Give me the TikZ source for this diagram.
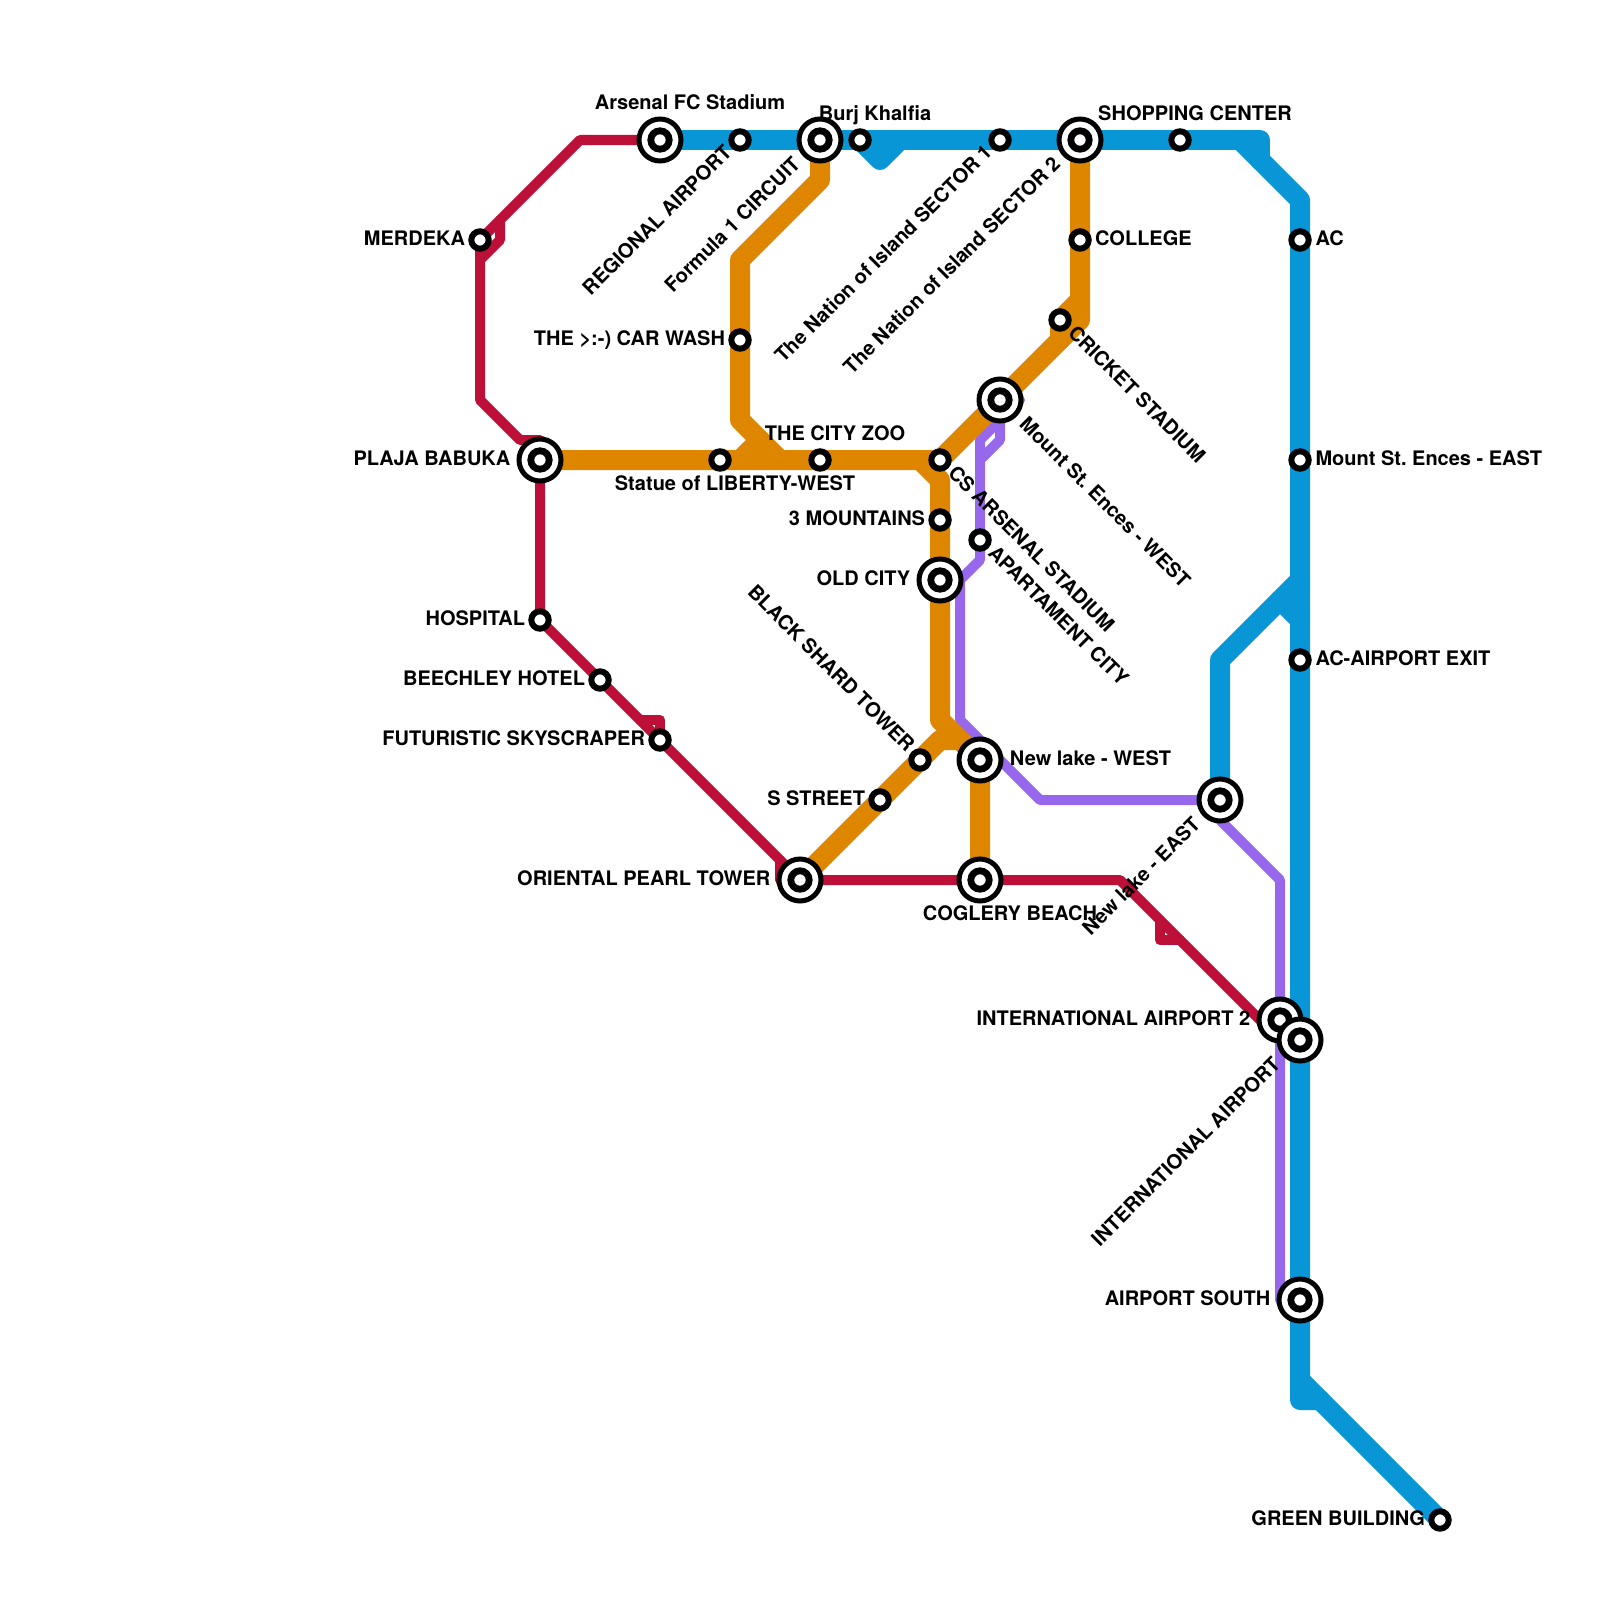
\documentclass[tikz,border=0pt]{standalone}
\usepackage{fontspec}
\setmainfont{TeX Gyre Heros}
\usepackage{xcolor}
\definecolor{MetroBlue}{HTML}{0896D7}
\definecolor{MetroOrange}{HTML}{DF8600}
\definecolor{MetroRed}{HTML}{BD1038}
\definecolor{MetroPurple}{HTML}{9768EC}
\usepackage{tikz}
\usetikzlibrary{positioning}
\pgfdeclarelayer{lines}
\pgfdeclarelayer{labels}
\pgfsetlayers{lines,labels,main}
\tikzset{
  mstop/.style={circle,draw=black,fill=white,line width=3pt,inner sep=0pt,outer sep=0pt,minimum size=8.7pt},
  mhub/.style={circle,draw=black,fill=white,line width=2.5pt,inner sep=0pt,outer sep=0pt,minimum size=21pt},
  mcore/.style={circle,draw=black,fill=white,line width=3.4pt,inner sep=0pt,outer sep=0pt,minimum size=9.2pt},
  mlabel/.style={font=\fontsize{10pt}{12pt}\selectfont\bfseries\frenchspacing,inner sep=0pt,outer sep=0pt,text height=7.2pt,text depth=0pt},
  mside/.style={mlabel,yshift=0.8pt},
  mup/.style={mlabel,rotate=45,anchor=base east},
  mdown/.style={mlabel,rotate=-45,anchor=base west},
  mback/.style={mlabel,rotate=-45,anchor=base east},
  mflat/.style={mlabel,anchor=base},
  wideline/.style={line width=10pt,line join=round,line cap=round},
  thinline/.style={line width=5pt,line join=round,line cap=round},
  bluetrack/.style={wideline,draw=MetroBlue},
  orangetrack/.style={wideline,draw=MetroOrange},
  redtrack/.style={thinline,draw=MetroRed},
  purpletrack/.style={thinline,draw=MetroPurple}
}
\begin{document}
\begin{tikzpicture}[x=0.5pt,y=-0.5pt]
  \useasboundingbox (0,0) rectangle (1600,1600);
  % stations
  \node[mhub] (arsenal) at (660,140) {};
  \node[mstop] (regional) at (740,140) {};
  \node[mhub] (formula) at (820,140) {};
  \node[mstop] (burj) at (860,140) {};
  \node[mstop] (sectorone) at (1000,140) {};
  \node[mhub] (sectortwo) at (1080,140) {};
  \node[mstop] (shopping) at (1180,140) {};
  \node[mstop] (merdeka) at (480,240) {};
  \node[mstop] (college) at (1080,240) {};
  \node[mstop] (ac) at (1300,240) {};
  \node[mstop] (cricket) at (1060,320) {};
  \node[mstop] (carwash) at (740,340) {};
  \node[mhub] (mountwest) at (1000,400) {};
  \node[mhub] (plaja) at (540,460) {};
  \node[mstop] (statue) at (720,460) {};
  \node[mstop] (cityzoo) at (820,460) {};
  \node[mstop] (csarsenal) at (940,460) {};
  \node[mstop] (mounteast) at (1300,460) {};
  \node[mstop] (mountains) at (940,520) {};
  \node[mstop] (apartament) at (980,540) {};
  \node[mhub] (oldcity) at (940,580) {};
  \node[mstop] (hospital) at (540,620) {};
  \node[mstop] (acexit) at (1300,660) {};
  \node[mstop] (beechley) at (600,680) {};
  \node[mstop] (futuristic) at (660,740) {};
  \node[mstop] (blackshard) at (920,760) {};
  \node[mhub] (newwest) at (980,760) {};
  \node[mstop] (sstreet) at (880,800) {};
  \node[mhub] (neweast) at (1220,800) {};
  \node[mhub] (oriental) at (800,880) {};
  \node[mhub] (coglery) at (980,880) {};
  \node[mhub] (intairtwo) at (1280,1020) {};
  \node[mcore] (intairtwocore) at (intairtwo) {};
  \node[mhub] (intair) at (1300,1040) {};
  \node[mhub] (airportsouth) at (1300,1300) {};
  \node[mstop] (green) at (1440,1520) {};
  \foreach \hubname in {arsenal,formula,sectortwo,mountwest,plaja,oldcity,newwest,neweast,oriental,coglery,intair,airportsouth}
    \node[mcore] (\hubname core) at (\hubname) {};
  % lines
  \begin{pgfonlayer}{lines}
    \draw[redtrack] (arsenal.center) -- (580,140) -- (merdeka.center) -- (480,400) -- (520,440) -- (540,440) -- (plaja.center) -- (hospital.center) -- (futuristic.center) -- (oriental.center) -- (coglery.center) -- (1120,880) -- (1260,1020) -- (intairtwo.center);
    \draw[redtrack] (500,220) -- (500,240) -- (480,260);
    \draw[redtrack] (640,720) -- (660,720) -- (futuristic.center);
    \draw[redtrack] (780,860) -- (780,880) -- (oriental.center);
    \draw[redtrack] (1160,920) -- (1160,940) -- (1180,940);
    \draw[purpletrack] (1020,400) -- (980,440) -- (apartament.center) -- (980,560) -- (960,580) -- (960,720) -- (1040,800) -- (neweast.center) -- (1220,820) -- (1280,880) -- (1280,1300) -- (airportsouth.center);
    \draw[purpletrack] (mountwest.center) -- (1000,440) -- (980,460);
    \draw[orangetrack] (plaja.center) -- (statue.center) -- (cityzoo.center) -- (csarsenal.center) -- (1080,320) -- (sectortwo.center);
    \draw[orangetrack] (1080,300) -- (1060,320) -- (1060,340);
    \draw[orangetrack] (formula.center) -- (820,180) -- (740,260) -- (carwash.center) -- (740,420) -- (780,460);
    \draw[orangetrack] (760,440) -- (740,460);
    \draw[orangetrack] (920,460) -- (940,480) -- (oldcity.center) -- (940,720) -- (newwest.center) -- (coglery.center);
    \draw[orangetrack] (oriental.center) -- (940,740) -- (960,740);
    \draw[bluetrack] (arsenal.center) -- (1260,140) -- (1260,160);
    \draw[bluetrack] (burj.center) -- (880,160) -- (900,140);
    \draw[bluetrack] (1240,140) -- (1300,200) -- (airportsouth.center) -- (1300,1400) -- (1320,1400);
    \draw[bluetrack] (1300,1380) -- (green.center);
    \draw[bluetrack] (neweast.center) -- (1220,660) -- (1300,580);
    \draw[bluetrack] (1280,600) -- (1300,620);
  \end{pgfonlayer}
  % labels
  \begin{pgfonlayer}{labels}
    \node[mside,left=3.15pt of merdeka] (merdekatext) {MERDEKA};
    \node[mside,left=3.15pt of carwash] (carwashtext) {THE >:-) CAR WASH};
    \node[mside,left=3.15pt of mountains] (mountainstext) {3 MOUNTAINS};
    \node[mside,left=3.15pt of hospital] (hospitaltext) {HOSPITAL};
    \node[mside,left=3.15pt of beechley] (beechleytext) {BEECHLEY HOTEL};
    \node[mside,left=3.15pt of futuristic] (futuristictext) {FUTURISTIC SKYSCRAPER};
    \node[mside,left=3.15pt of sstreet] (sstreettext) {S STREET};
    \node[mside,left=3.15pt of green] (greentext) {GREEN BUILDING};
    \node[mside,left=4.35pt of plaja] (plajatext) {PLAJA BABUKA};
    \node[mside,left=4.35pt of oldcity] (oldcitytext) {OLD CITY};
    \node[mside,left=4.35pt of oriental] (orientaltext) {ORIENTAL PEARL TOWER};
    \node[mside,left=4.35pt of intairtwo] (intairtwotext) {INTERNATIONAL AIRPORT 2};
    \node[mside,left=4.35pt of airportsouth] (airportsouthtext) {AIRPORT SOUTH};
    \node[mside,right=3.2pt of college] (collegetext) {COLLEGE};
    \node[mside,right=3.4pt of ac] (actext) {AC};
    \node[mside,right=3.4pt of mounteast] (mounteasttext) {Mount St. Ences - EAST};
    \node[mside,right=3.4pt of acexit] (acexittext) {AC-AIRPORT EXIT};
    \node[mside,right=4.45pt of newwest] (newwesttext) {New lake - WEST};
    \node[mflat] (arsenaltext) at ([shift={(30,-30)}]arsenal.center) {Arsenal FC Stadium};
    \node[mflat] (burjtext) at ([shift={(15,-20)}]burj.center) {Burj Khalfia};
    \node[mflat] (shoppingtext) at ([shift={(15,-20)}]shopping.center) {SHOPPING CENTER};
    \node[mflat] (cityzootext) at ([shift={(15,-20)}]cityzoo.center) {THE CITY ZOO};
    \node[mflat] (statuetext) at ([shift={(15,30)}]statue.center) {Statue of LIBERTY-WEST};
    \node[mflat] (coglerytext) at ([shift={(30,40)}]coglery.center) {COGLERY BEACH};
    \node[mup] (regionaltext) at ([shift={(-7,14)}]regional.center) {REGIONAL AIRPORT};
    \node[mup] (sectoronetext) at ([shift={(-7,14)}]sectorone.center) {The Nation of Island SECTOR 1};
    \node[mup] (formulatext) at ([shift={(-18.4,25.4)}]formula.center) {Formula 1 CIRCUIT};
    \node[mup] (sectortwotext) at ([shift={(-18.4,25.4)}]sectortwo.center) {The Nation of Island SECTOR 2};
    \node[mup] (neweasttext) at ([shift={(-18.4,25.4)}]neweast.center) {New lake - EAST};
    \node[mup] (intairtext) at ([shift={(-18.4,25.4)}]intair.center) {INTERNATIONAL AIRPORT};
    \node[mdown] (crickettext) at ([shift={(7,14)}]cricket.center) {CRICKET STADIUM};
    \node[mdown] (csarsenaltext) at ([shift={(7,14)}]csarsenal.center) {CS ARSENAL STADIUM};
    \node[mdown] (apartamenttext) at ([shift={(7,14)}]apartament.center) {APARTAMENT CITY};
    \node[mdown] (mountwesttext) at ([shift={(18.4,25.4)}]mountwest.center) {Mount St. Ences - WEST};
    \node[mback] (blackshardtext) at ([shift={(-14,-7)}]blackshard.center) {BLACK SHARD TOWER};
  \end{pgfonlayer}
\end{tikzpicture}
\end{document}
